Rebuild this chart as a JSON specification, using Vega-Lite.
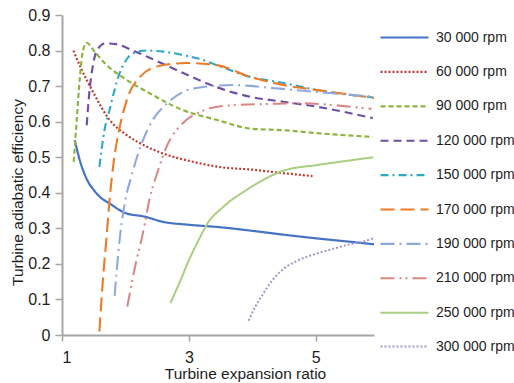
{
  "$schema": "https://vega.github.io/schema/vega-lite/v6.json",
  "width": 312,
  "height": 320,
  "autosize": "none",
  "padding": {"left": 62, "top": 15, "right": 140, "bottom": 48},
  "background": "white",
  "config": {
    "view": {"stroke": null},
    "font": "Liberation Sans",
    "axis": {"grid": false, "domainColor": "#A6A6A6", "domainWidth": 2, "tickColor": "#A6A6A6", "tickWidth": 1.5, "labelColor": "#1E1E1E", "titleColor": "#1E1E1E", "labelFontSize": 16, "titleFontSize": 15.5, "titleFontWeight": "normal"}
  },
  "data": {"values": [
    {"s": "30 000 rpm", "x": 1.2, "y": 0.548},
    {"s": "30 000 rpm", "x": 1.3, "y": 0.48},
    {"s": "30 000 rpm", "x": 1.4, "y": 0.435},
    {"s": "30 000 rpm", "x": 1.5, "y": 0.408},
    {"s": "30 000 rpm", "x": 1.6, "y": 0.388},
    {"s": "30 000 rpm", "x": 1.75, "y": 0.37},
    {"s": "30 000 rpm", "x": 2.0, "y": 0.343},
    {"s": "30 000 rpm", "x": 2.3, "y": 0.333},
    {"s": "30 000 rpm", "x": 2.6, "y": 0.318},
    {"s": "30 000 rpm", "x": 3.0, "y": 0.31},
    {"s": "30 000 rpm", "x": 3.5, "y": 0.303},
    {"s": "30 000 rpm", "x": 4.0, "y": 0.293},
    {"s": "30 000 rpm", "x": 4.5, "y": 0.282},
    {"s": "30 000 rpm", "x": 5.0, "y": 0.272},
    {"s": "30 000 rpm", "x": 5.5, "y": 0.263},
    {"s": "30 000 rpm", "x": 5.92, "y": 0.255},

    {"s": "60 000 rpm", "x": 1.18, "y": 0.8},
    {"s": "60 000 rpm", "x": 1.3, "y": 0.75},
    {"s": "60 000 rpm", "x": 1.5, "y": 0.68},
    {"s": "60 000 rpm", "x": 1.75, "y": 0.605},
    {"s": "60 000 rpm", "x": 2.0, "y": 0.565},
    {"s": "60 000 rpm", "x": 2.3, "y": 0.533},
    {"s": "60 000 rpm", "x": 2.6, "y": 0.51},
    {"s": "60 000 rpm", "x": 3.0, "y": 0.49},
    {"s": "60 000 rpm", "x": 3.5, "y": 0.472},
    {"s": "60 000 rpm", "x": 4.0, "y": 0.465},
    {"s": "60 000 rpm", "x": 4.5, "y": 0.455},
    {"s": "60 000 rpm", "x": 4.95, "y": 0.447},

    {"s": "90 000 rpm", "x": 1.185, "y": 0.487},
    {"s": "90 000 rpm", "x": 1.23, "y": 0.6},
    {"s": "90 000 rpm", "x": 1.28, "y": 0.72},
    {"s": "90 000 rpm", "x": 1.33, "y": 0.8},
    {"s": "90 000 rpm", "x": 1.39, "y": 0.822},
    {"s": "90 000 rpm", "x": 1.5, "y": 0.8},
    {"s": "90 000 rpm", "x": 1.7, "y": 0.76},
    {"s": "90 000 rpm", "x": 2.0, "y": 0.72},
    {"s": "90 000 rpm", "x": 2.4, "y": 0.678},
    {"s": "90 000 rpm", "x": 2.9, "y": 0.633},
    {"s": "90 000 rpm", "x": 3.4, "y": 0.607},
    {"s": "90 000 rpm", "x": 4.0, "y": 0.58},
    {"s": "90 000 rpm", "x": 4.5, "y": 0.576},
    {"s": "90 000 rpm", "x": 5.0, "y": 0.568},
    {"s": "90 000 rpm", "x": 5.9, "y": 0.557},

    {"s": "120 000 rpm", "x": 1.39, "y": 0.59},
    {"s": "120 000 rpm", "x": 1.43, "y": 0.68},
    {"s": "120 000 rpm", "x": 1.48, "y": 0.75},
    {"s": "120 000 rpm", "x": 1.55, "y": 0.8},
    {"s": "120 000 rpm", "x": 1.68, "y": 0.82},
    {"s": "120 000 rpm", "x": 1.85, "y": 0.818},
    {"s": "120 000 rpm", "x": 2.12, "y": 0.8},
    {"s": "120 000 rpm", "x": 2.39, "y": 0.779},
    {"s": "120 000 rpm", "x": 2.91, "y": 0.737},
    {"s": "120 000 rpm", "x": 3.44, "y": 0.697},
    {"s": "120 000 rpm", "x": 3.97, "y": 0.67},
    {"s": "120 000 rpm", "x": 4.49, "y": 0.656},
    {"s": "120 000 rpm", "x": 5.02, "y": 0.642},
    {"s": "120 000 rpm", "x": 5.9, "y": 0.61},

    {"s": "150 000 rpm", "x": 1.59, "y": 0.473},
    {"s": "150 000 rpm", "x": 1.67, "y": 0.576},
    {"s": "150 000 rpm", "x": 1.75, "y": 0.633},
    {"s": "150 000 rpm", "x": 1.83, "y": 0.69},
    {"s": "150 000 rpm", "x": 1.91, "y": 0.737},
    {"s": "150 000 rpm", "x": 2.0, "y": 0.77},
    {"s": "150 000 rpm", "x": 2.1, "y": 0.79},
    {"s": "150 000 rpm", "x": 2.33, "y": 0.8},
    {"s": "150 000 rpm", "x": 2.6, "y": 0.797},
    {"s": "150 000 rpm", "x": 2.91, "y": 0.787},
    {"s": "150 000 rpm", "x": 3.2, "y": 0.775},
    {"s": "150 000 rpm", "x": 3.44, "y": 0.759},
    {"s": "150 000 rpm", "x": 3.97, "y": 0.726},
    {"s": "150 000 rpm", "x": 4.49, "y": 0.709},
    {"s": "150 000 rpm", "x": 5.02, "y": 0.689},
    {"s": "150 000 rpm", "x": 5.9, "y": 0.668},

    {"s": "170 000 rpm", "x": 1.59, "y": 0.01},
    {"s": "170 000 rpm", "x": 1.645, "y": 0.155},
    {"s": "170 000 rpm", "x": 1.7, "y": 0.27},
    {"s": "170 000 rpm", "x": 1.75, "y": 0.38},
    {"s": "170 000 rpm", "x": 1.81, "y": 0.48},
    {"s": "170 000 rpm", "x": 1.9, "y": 0.576},
    {"s": "170 000 rpm", "x": 2.02, "y": 0.66},
    {"s": "170 000 rpm", "x": 2.23, "y": 0.726},
    {"s": "170 000 rpm", "x": 2.54, "y": 0.757},
    {"s": "170 000 rpm", "x": 2.97, "y": 0.765},
    {"s": "170 000 rpm", "x": 3.44, "y": 0.759},
    {"s": "170 000 rpm", "x": 3.97, "y": 0.726},
    {"s": "170 000 rpm", "x": 4.49, "y": 0.703},
    {"s": "170 000 rpm", "x": 5.02, "y": 0.689},
    {"s": "170 000 rpm", "x": 5.92, "y": 0.667},

    {"s": "190 000 rpm", "x": 1.83, "y": 0.11},
    {"s": "190 000 rpm", "x": 1.91, "y": 0.27},
    {"s": "190 000 rpm", "x": 2.0, "y": 0.38},
    {"s": "190 000 rpm", "x": 2.1, "y": 0.45},
    {"s": "190 000 rpm", "x": 2.26, "y": 0.54},
    {"s": "190 000 rpm", "x": 2.45, "y": 0.61},
    {"s": "190 000 rpm", "x": 2.65, "y": 0.65},
    {"s": "190 000 rpm", "x": 2.9, "y": 0.683},
    {"s": "190 000 rpm", "x": 3.2, "y": 0.697},
    {"s": "190 000 rpm", "x": 3.7, "y": 0.703},
    {"s": "190 000 rpm", "x": 4.36, "y": 0.694},
    {"s": "190 000 rpm", "x": 4.8, "y": 0.687},
    {"s": "190 000 rpm", "x": 5.6, "y": 0.675},
    {"s": "190 000 rpm", "x": 5.93, "y": 0.67},

    {"s": "210 000 rpm", "x": 2.03, "y": 0.08},
    {"s": "210 000 rpm", "x": 2.15, "y": 0.19},
    {"s": "210 000 rpm", "x": 2.28, "y": 0.29},
    {"s": "210 000 rpm", "x": 2.39, "y": 0.39},
    {"s": "210 000 rpm", "x": 2.5, "y": 0.455},
    {"s": "210 000 rpm", "x": 2.65, "y": 0.53},
    {"s": "210 000 rpm", "x": 2.9, "y": 0.595},
    {"s": "210 000 rpm", "x": 3.17, "y": 0.627},
    {"s": "210 000 rpm", "x": 3.6, "y": 0.645},
    {"s": "210 000 rpm", "x": 4.3, "y": 0.65},
    {"s": "210 000 rpm", "x": 4.8, "y": 0.652},
    {"s": "210 000 rpm", "x": 5.25, "y": 0.647},
    {"s": "210 000 rpm", "x": 5.88, "y": 0.636},

    {"s": "250 000 rpm", "x": 2.71, "y": 0.09},
    {"s": "250 000 rpm", "x": 2.86, "y": 0.15},
    {"s": "250 000 rpm", "x": 3.0, "y": 0.21},
    {"s": "250 000 rpm", "x": 3.18, "y": 0.276},
    {"s": "250 000 rpm", "x": 3.28, "y": 0.31},
    {"s": "250 000 rpm", "x": 3.54, "y": 0.36},
    {"s": "250 000 rpm", "x": 3.91, "y": 0.408},
    {"s": "250 000 rpm", "x": 4.17, "y": 0.436},
    {"s": "250 000 rpm", "x": 4.49, "y": 0.462},
    {"s": "250 000 rpm", "x": 5.02, "y": 0.478},
    {"s": "250 000 rpm", "x": 5.5, "y": 0.49},
    {"s": "250 000 rpm", "x": 5.91, "y": 0.5},

    {"s": "300 000 rpm", "x": 3.94, "y": 0.04},
    {"s": "300 000 rpm", "x": 4.05, "y": 0.08},
    {"s": "300 000 rpm", "x": 4.17, "y": 0.115},
    {"s": "300 000 rpm", "x": 4.3, "y": 0.15},
    {"s": "300 000 rpm", "x": 4.44, "y": 0.178},
    {"s": "300 000 rpm", "x": 4.7, "y": 0.208},
    {"s": "300 000 rpm", "x": 4.96, "y": 0.226},
    {"s": "300 000 rpm", "x": 5.23, "y": 0.24},
    {"s": "300 000 rpm", "x": 5.49, "y": 0.253},
    {"s": "300 000 rpm", "x": 5.75, "y": 0.263},
    {"s": "300 000 rpm", "x": 5.93, "y": 0.273}
  ]},
  "mark": {"type": "line", "interpolate": "monotone"},
  "encoding": {
    "x": {
      "field": "x", "type": "quantitative",
      "scale": {"domain": [1, 5.92], "nice": false, "zero": false},
      "axis": {"values": [1, 3, 5], "title": "Turbine expansion ratio", "tickSize": 6, "labelPadding": 8, "titleX": 183, "titleY": 38, "titleBaseline": "middle", "titleAlign": "center", "titleAnchor": null}
    },
    "y": {
      "field": "y", "type": "quantitative",
      "scale": {"domain": [0, 0.9], "nice": false},
      "axis": {"values": [0, 0.1, 0.2, 0.3, 0.4, 0.5, 0.6, 0.7, 0.8, 0.9], "format": ".1~f", "title": "Turbine adiabatic efficiency", "tickSize": 7, "labelPadding": 5, "titleX": -45, "titleY": 177, "titleBaseline": "middle", "titleAlign": "center", "titleAnchor": null}
    },
    "color": {
      "field": "s", "type": "nominal",
      "scale": {
        "domain": ["30 000 rpm", "60 000 rpm", "90 000 rpm", "120 000 rpm", "150 000 rpm", "170 000 rpm", "190 000 rpm", "210 000 rpm", "250 000 rpm", "300 000 rpm"],
        "range": ["#4472C4", "#C0392B", "#8DB43E", "#6F4FA3", "#2FA8C8", "#EE7A24", "#8EA9DB", "#D98784", "#A8CF82", "#A993CC"]
      },
      "legend": {
        "title": null, "orient": "none", "legendX": 317, "legendY": -3, "padding": 0,
        "symbolType": "stroke", "symbolSize": 2304, "symbolStrokeWidth": 2,
        "labelFontSize": 14, "labelOffset": 6, "labelColor": "#1E1E1E", "rowPadding": 1.4
      }
    },
    "strokeDash": {
      "field": "s", "type": "nominal",
      "scale": {
        "domain": ["30 000 rpm", "60 000 rpm", "90 000 rpm", "120 000 rpm", "150 000 rpm", "170 000 rpm", "190 000 rpm", "210 000 rpm", "250 000 rpm", "300 000 rpm"],
        "range": [[1, 0], [2, 2], [5, 3], [8, 5], [8, 4, 2, 4], [14, 6], [14, 5, 2, 5], [14, 5, 2, 4, 2, 5], [1, 0], [2, 2]]
      }
    },
    "strokeWidth": {
      "field": "s", "type": "ordinal",
      "scale": {
        "domain": ["30 000 rpm", "60 000 rpm", "90 000 rpm", "120 000 rpm", "150 000 rpm", "170 000 rpm", "190 000 rpm", "210 000 rpm", "250 000 rpm", "300 000 rpm"],
        "range": [2.2, 2, 2.2, 2.2, 2, 2.2, 2, 2, 1.6, 1.8]
      },
      "legend": null
    }
  }
}
